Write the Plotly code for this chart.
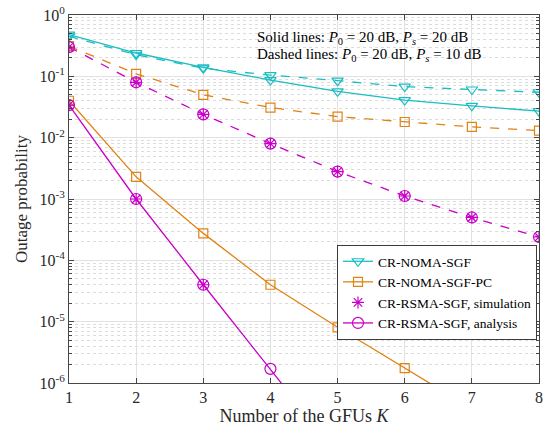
import plotly.graph_objects as go

K = [1, 2, 3, 4, 5, 6, 7, 8]

# Solid lines: P0 = 20 dB, Ps = 20 dB
noma_solid = [0.48, 0.24, 0.140, 0.087, 0.057, 0.041, 0.033, 0.027]
nomapc_solid = [0.040, 0.0023, 2.75e-4, 4.0e-5, 8.1e-6, 1.75e-6, 3.8e-7, 9e-8]
rsma_solid_ana = [0.034, 1.0e-3, 4.0e-5, 1.7e-6, 7e-8, 3e-9, 1.2e-10, 5e-12]
rsma_solid_sim = [0.034, 1.0e-3, 4.0e-5]
K_sim_solid = [1, 2, 3]

# Dashed lines: P0 = 20 dB, Ps = 10 dB
noma_dash = [0.45, 0.225, 0.135, 0.105, 0.085, 0.068, 0.061, 0.055]
nomapc_dash = [0.31, 0.11, 0.050, 0.031, 0.022, 0.018, 0.015, 0.013]
rsma_dash_ana = [0.30, 0.080, 0.024, 0.0080, 0.0028, 0.00112, 5.0e-4, 2.4e-4]
rsma_dash_sim = [0.30, 0.080, 0.024, 0.0080, 0.0028, 0.00112, 5.0e-4, 2.4e-4]

y_ticks = [1e-6, 1e-5, 1e-4, 1e-3, 1e-2, 1e-1, 1]
y_ticktext = ["10<sup>-6</sup>", "10<sup>-5</sup>", "10<sup>-4</sup>", "10<sup>-3</sup>",
              "10<sup>-2</sup>", "10<sup>-1</sup>", "10<sup>0</sup>"]

CY = "rgb(25,190,195)"
OR = "rgb(225,130,20)"
MG = "rgb(200,0,200)"
LW = 1.3
FONT = "Liberation Serif, Times New Roman, Times, serif"

fig = go.Figure()

# dashed (no legend)
fig.add_trace(go.Scatter(x=K, y=noma_dash, mode="lines+markers", showlegend=False,
                         line=dict(color=CY, width=LW, dash="dash"),
                         marker=dict(symbol="triangle-down-open", size=10, color=CY, line=dict(width=1.2))))
fig.add_trace(go.Scatter(x=K, y=nomapc_dash, mode="lines+markers", showlegend=False,
                         line=dict(color=OR, width=LW, dash="dash"),
                         marker=dict(symbol="square-open", size=9, color=OR, line=dict(width=1.2))))
fig.add_trace(go.Scatter(x=K, y=rsma_dash_ana, mode="lines+markers", showlegend=False,
                         line=dict(color=MG, width=LW, dash="dash"),
                         marker=dict(symbol="circle-open", size=11, color=MG, line=dict(width=1.2))))
fig.add_trace(go.Scatter(x=K, y=rsma_dash_sim, mode="markers", showlegend=False,
                         marker=dict(symbol="asterisk-open", size=10, color=MG, line=dict(width=1.2, color=MG))))

# solid (legend)
fig.add_trace(go.Scatter(x=K, y=noma_solid, mode="lines+markers", name="CR-NOMA-SGF",
                         line=dict(color=CY, width=LW),
                         marker=dict(symbol="triangle-down-open", size=10, color=CY, line=dict(width=1.2))))
fig.add_trace(go.Scatter(x=K, y=nomapc_solid, mode="lines+markers", name="CR-NOMA-SGF-PC",
                         line=dict(color=OR, width=LW),
                         marker=dict(symbol="square-open", size=9, color=OR, line=dict(width=1.2))))
fig.add_trace(go.Scatter(x=K_sim_solid, y=rsma_solid_sim, mode="markers", name="CR-RSMA-SGF, simulation",
                         marker=dict(symbol="asterisk-open", size=10, color=MG, line=dict(width=1.2, color=MG))))
fig.add_trace(go.Scatter(x=K, y=rsma_solid_ana, mode="lines+markers", name="CR-RSMA-SGF, analysis",
                         line=dict(color=MG, width=LW),
                         marker=dict(symbol="circle-open", size=11, color=MG, line=dict(width=1.2))))

minor_vals = [m * 10.0 ** e for e in range(-6, 0) for m in range(2, 10)]

fig.update_layout(
    width=543, height=431,
    margin=dict(l=69, r=4, t=15, b=48, autoexpand=False),
    paper_bgcolor="white", plot_bgcolor="white",
    font=dict(family=FONT, size=15, color="rgb(40,40,40)"),
    legend=dict(x=(537 - 69) / 470, y=1 - (245 - 15) / 368, xanchor="right", yanchor="top",
                bgcolor="white", bordercolor="rgb(60,60,60)", borderwidth=1,
                font=dict(size=13.5, family=FONT, color="black"),
                tracegroupgap=0, itemwidth=30),
    showlegend=True,
)
fig.update_xaxes(range=[1, 8], tickmode="array", tickvals=K, ticks="inside", ticklen=5,
                 automargin=False, ticklabeloverflow="allow",
                 showgrid=True, gridcolor="rgb(225,225,225)", gridwidth=1,
                 showline=True, linecolor="rgb(70,70,70)", linewidth=1, mirror="ticks",
                 tickfont=dict(size=16, family=FONT), zeroline=False,
                 title=dict(text="Number of the GFUs <i>K</i>", font=dict(size=18, family=FONT), standoff=2))
fig.update_yaxes(type="log", range=[-6, 0], tickmode="array", tickvals=y_ticks, ticktext=y_ticktext,
                 ticks="inside", ticklen=5, automargin=False, ticklabeloverflow="allow",
                 showgrid=True, gridcolor="rgb(225,225,225)", gridwidth=1,
                 showline=True, linecolor="rgb(70,70,70)", linewidth=1, mirror="ticks",
                 tickfont=dict(size=16, family=FONT), zeroline=False,
                 minor=dict(tickmode="array", tickvals=minor_vals, ticks="inside", ticklen=3,
                            tickcolor="rgb(70,70,70)", showgrid=True, gridcolor="rgb(220,220,220)",
                            griddash="dot", gridwidth=1),
                 title=dict(text="Outage probability", font=dict(size=17, family=FONT), standoff=7))

fig.add_annotation(xref="paper", yref="paper", x=(255 - 69) / 470, y=1 - (38 - 15) / 368,
                   xanchor="left", yanchor="middle", showarrow=False, align="left",
                   text="Solid lines: <i>P</i><sub>0</sub> = 20 dB, <i>P<sub>s</sub></i> = 20 dB",
                   font=dict(size=15, color="black", family=FONT))
fig.add_annotation(xref="paper", yref="paper", x=(255 - 69) / 470, y=1 - (55 - 15) / 368,
                   xanchor="left", yanchor="middle", showarrow=False, align="left",
                   text="Dashed lines: <i>P</i><sub>0</sub> = 20 dB, <i>P<sub>s</sub></i> = 10 dB",
                   font=dict(size=15, color="black", family=FONT))

fig.write_html("out.html", config={"displayModeBar": False},
               post_script="document.body.style.margin='0';document.body.style.overflow='hidden';")
